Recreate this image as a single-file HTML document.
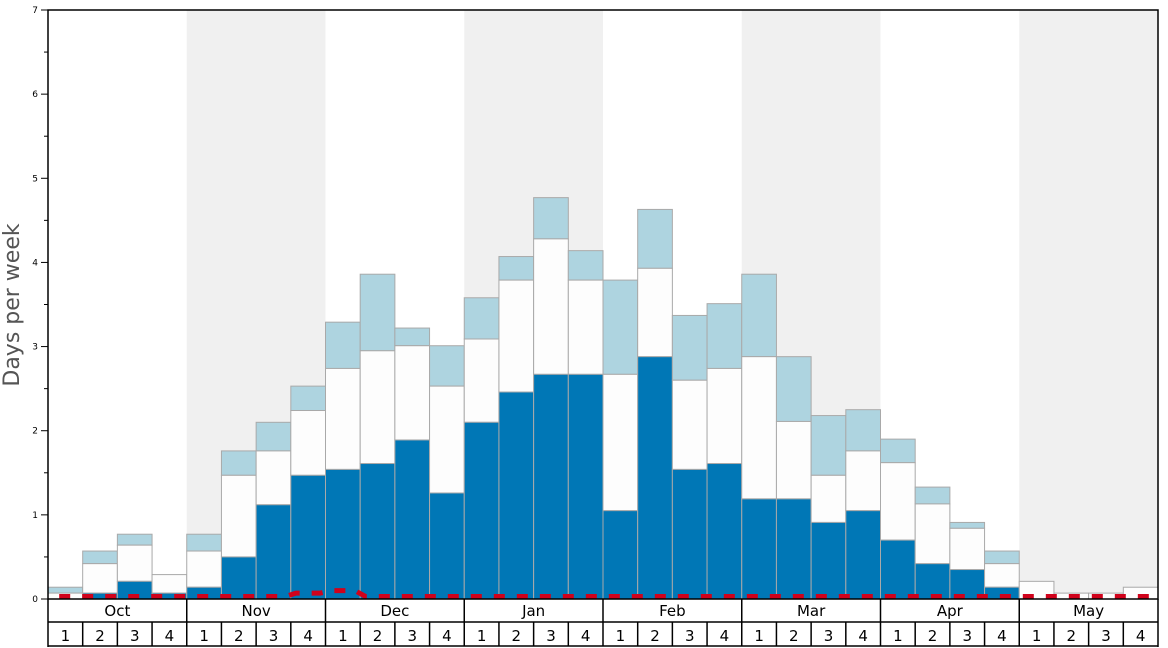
<!DOCTYPE html>
<html><head><meta charset="utf-8"><style>
body{margin:0;background:#fff;}
svg{display:block;font-family:"DejaVu Sans","Liberation Sans",sans-serif;}
</style></head><body>
<svg id="c" width="1168" height="648"></svg>
<script>
const months = ["Oct","Nov","Dec","Jan","Feb","Mar","Apr","May"];
const weekLabels = ["1","2","3","4"];
const darkVals = [0,0.07,0.21,0.07, 0.14,0.5,1.12,1.47, 1.54,1.61,1.89,1.26, 2.1,2.46,2.67,2.67, 1.05,2.88,1.54,1.61, 1.19,1.19,0.91,1.05, 0.7,0.42,0.35,0.14, 0,0,0,0];
const midVals = [0.07,0.42,0.64,0.29, 0.57,1.47,1.76,2.24, 2.74,2.95,3.01,2.53, 3.09,3.79,4.28,3.79, 2.67,3.93,2.6,2.74, 2.88,2.11,1.47,1.76, 1.62,1.13,0.84,0.42, 0.21,0.07,0.07,0.14];
const topVals = [0.14,0.57,0.77,0.29, 0.77,1.76,2.1,2.53, 3.29,3.86,3.22,3.01, 3.58,4.07,4.77,4.14, 3.79,4.63,3.37,3.51, 3.86,2.88,2.18,2.25, 1.9,1.33,0.91,0.57, 0.21,0.07,0.07,0.14];
const redVals = [0.03,0.03,0.03,0.03, 0.03,0.03,0.03,0.07, 0.1,0.03,0.03,0.03, 0.03,0.03,0.03,0.03, 0.03,0.03,0.03,0.03, 0.03,0.03,0.03,0.03, 0.03,0.03,0.03,0.03, 0.03,0.03,0.03,0.03];
const yTicks = [0,1,2,3,4,5,6,7];

const svg = document.getElementById('c');
const NS = 'http://www.w3.org/2000/svg';
const X0 = 48, X1 = 1158, Y0 = 599, Y1 = 10, YMAX = 7;
const n = darkVals.length;
const bw = (X1 - X0) / n;
const xs = i => X0 + i * bw;
const ys = v => Y0 - v / YMAX * (Y0 - Y1);
function mk(tag, attrs, parent){
  const e = document.createElementNS(NS, tag);
  for (const k in attrs) e.setAttribute(k, attrs[k]);
  (parent || svg).appendChild(e);
  return e;
}
months.forEach((m, mi) => {
  if (mi % 2 === 1) {
    const r = mk('rect', {x: xs(mi*4), y: Y1, width: bw*4, height: Y0 - Y1, fill: '#f0f0f0'});
    
    
  }
});
for (let i = 0; i < n; i++) {
  const segs = [[topVals[i], midVals[i], '#aed4e0', 'top'], [midVals[i], darkVals[i], '#fdfdfd', 'mid'], [darkVals[i], 0, '#0077b6', 'dark']];
  segs.forEach(s => {
    if (s[0] - s[1] <= 0) return;
    const r = mk('rect', {x: xs(i), y: ys(s[0]), width: bw, height: ys(s[1]) - ys(s[0]), fill: s[2], stroke: '#a9a9a9', 'stroke-width': 1});
    
    
  });
}
let d = '';
for (let i = 0; i < n; i++) {
  const y = ys(redVals[i]);
  d += (i ? 'L' : 'M') + (xs(i)+bw*0.15) + ' ' + y + ' L' + (xs(i)+bw*0.85) + ' ' + y + ' ';
}
const rl = mk('path', {d: d, fill: 'none', stroke: '#d0021b', 'stroke-width': 5, 'stroke-dasharray': '11 12', 'stroke-dashoffset': -6});


yTicks.forEach(t => {
  const y = ys(t);
  const tl = mk('line', {x1: 41, x2: 48, y1: y, y2: y, stroke: '#000'});
  
  
  const tx = mk('text', {x: 38, y: y + 3, 'font-size': 9, 'text-anchor': 'end', fill: '#000'});
  tx.textContent = t;
  
  
  if (t < YMAX) {
    const ym = ys(t + 0.5);
    const ml = mk('line', {x1: 44, x2: 48, y1: ym, y2: ym, stroke: '#000'});
    
    
  }
});
const yt = mk('text', {x: 0, y: 0, 'font-size': 22, fill: '#555', 'text-anchor': 'middle', transform: 'translate(19,305) rotate(-90)'});
yt.textContent = 'Days per week';


const fr = mk('rect', {x: X0, y: Y1, width: X1 - X0, height: Y0 - Y1, fill: 'none', stroke: '#000', 'stroke-width': 1.5});


mk('line', {x1: X0, x2: X1, y1: 622, y2: 622, stroke: '#000', 'stroke-width': 1.5});
mk('line', {x1: X0, x2: X1, y1: 646, y2: 646, stroke: '#000', 'stroke-width': 1.5});
mk('line', {x1: X0, x2: X0, y1: Y0, y2: 647, stroke: '#000', 'stroke-width': 1.5});
mk('line', {x1: X1, x2: X1, y1: Y0, y2: 647, stroke: '#000', 'stroke-width': 1.5});
months.forEach((m, mi) => {
  if (mi > 0) mk('line', {x1: xs(mi*4), x2: xs(mi*4), y1: Y0, y2: 646, stroke: '#000', 'stroke-width': 1.5});
  const t = mk('text', {x: xs(mi*4) + bw*2, y: 616, 'font-size': 15, 'text-anchor': 'middle', fill: '#000'});
  t.textContent = m;
  
  
  weekLabels.forEach((w, wi) => {
    const i = mi*4 + wi;
    if (wi > 0) mk('line', {x1: xs(i), x2: xs(i), y1: 622, y2: 646, stroke: '#000', 'stroke-width': 1.5});
    const wt = mk('text', {x: xs(i) + bw/2, y: 641, 'font-size': 15, 'text-anchor': 'middle', fill: '#000'});
    wt.textContent = w;
    
    
  });
});
</script>
</body></html>
